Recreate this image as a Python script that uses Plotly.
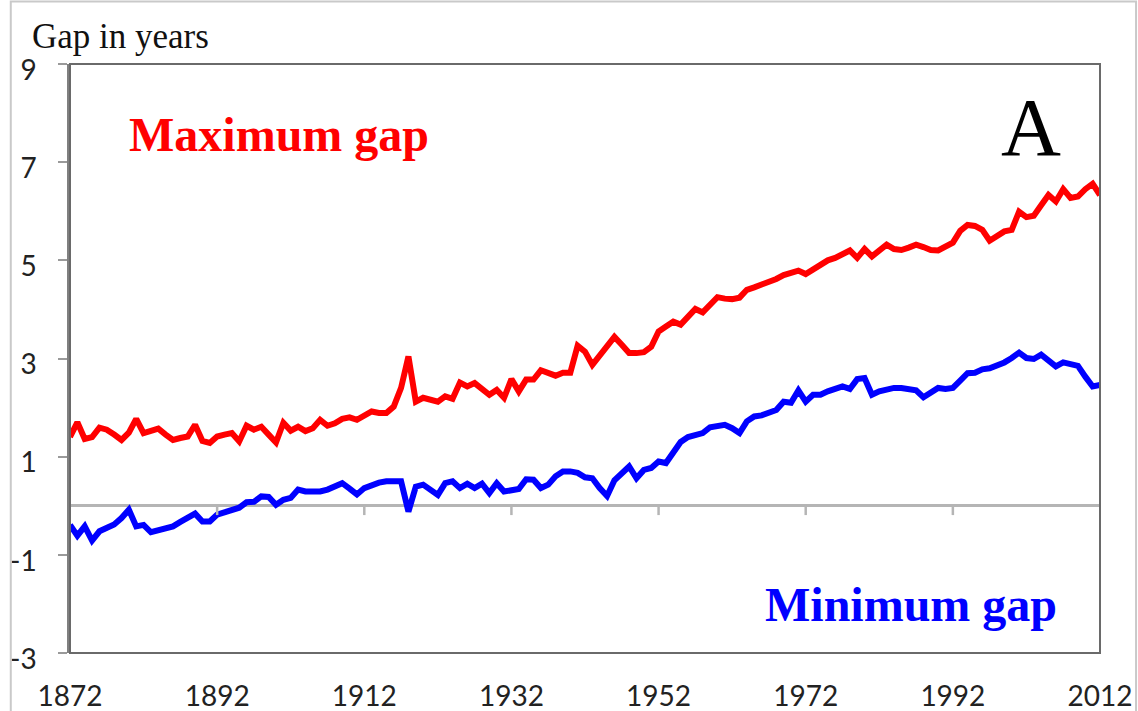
import plotly.graph_objects as go

# years 1872..2012, one value per year
years = list(range(1872, 2013))

max_gap = [
    1.40, 1.70, 1.36, 1.40, 1.59, 1.55, 1.45, 1.34, 1.49, 1.77,  # 1872-1881
    1.48, 1.52, 1.57, 1.45, 1.34, 1.38, 1.41, 1.65, 1.32, 1.28,  # 1882-1891
    1.41, 1.45, 1.48, 1.31, 1.63, 1.55, 1.61, 1.45, 1.29, 1.69,  # 1892-1901
    1.53, 1.61, 1.52, 1.58, 1.75, 1.63, 1.68, 1.77, 1.80, 1.75,  # 1902-1911
    1.83, 1.92, 1.89, 1.89, 2.02, 2.40, 3.04, 2.12, 2.20, 2.17,  # 1912-1921
    2.12, 2.23, 2.18, 2.51, 2.43, 2.50, 2.38, 2.26, 2.36, 2.20,  # 1922-1931
    2.58, 2.33, 2.57, 2.57, 2.76, 2.71, 2.65, 2.71, 2.71, 3.26,  # 1932-1941
    3.14, 2.87, 3.05, 3.25, 3.44, 3.28, 3.11, 3.11, 3.13, 3.24,  # 1942-1951
    3.55, 3.65, 3.75, 3.69, 3.85, 4.01, 3.94, 4.10, 4.25, 4.22,  # 1952-1961
    4.21, 4.24, 4.40, 4.45, 4.50, 4.55, 4.62, 4.70, 4.75, 4.79,  # 1962-1971
    4.72, 4.81, 4.90, 5.00, 5.05, 5.12, 5.20, 5.05, 5.23, 5.08,  # 1972-1981
    5.20, 5.32, 5.23, 5.21, 5.26, 5.32, 5.27, 5.21, 5.20, 5.27,  # 1982-1991
    5.36, 5.60, 5.72, 5.70, 5.62, 5.40, 5.50, 5.59, 5.62, 5.99,  # 1992-2001
    5.88, 5.91, 6.12, 6.33, 6.20, 6.45, 6.27, 6.30, 6.45, 6.56,  # 2002-2011
    6.33,                                                        # 2012
]

min_gap = [
    -0.39, -0.61, -0.42, -0.71, -0.52, -0.45, -0.38, -0.25, -0.08, -0.42,  # 1872-1881
    -0.39, -0.54, -0.50, -0.46, -0.42, -0.33, -0.24, -0.16, -0.32, -0.32,  # 1882-1891
    -0.18, -0.13, -0.10, -0.04, 0.07, 0.08, 0.19, 0.18, 0.02, 0.12,        # 1892-1901
    0.16, 0.33, 0.29, 0.29, 0.29, 0.33, 0.40, 0.46, 0.35, 0.23,            # 1902-1911
    0.36, 0.42, 0.47, 0.50, 0.50, 0.50, -0.12, 0.39, 0.43, 0.33,           # 1912-1921
    0.22, 0.46, 0.50, 0.36, 0.45, 0.36, 0.45, 0.26, 0.46, 0.29,            # 1922-1931
    0.33, 0.34, 0.54, 0.53, 0.36, 0.43, 0.60, 0.70, 0.70, 0.67,            # 1932-1941
    0.58, 0.56, 0.36, 0.20, 0.52, 0.65, 0.80, 0.56, 0.73, 0.77,            # 1942-1951
    0.90, 0.87, 1.11, 1.30, 1.40, 1.45, 1.48, 1.60, 1.62, 1.65,            # 1952-1961
    1.58, 1.48, 1.72, 1.82, 1.84, 1.88, 1.95, 2.12, 2.10, 2.35,            # 1962-1971
    2.12, 2.26, 2.26, 2.33, 2.38, 2.43, 2.38, 2.58, 2.60, 2.26,            # 1972-1981
    2.33, 2.38, 2.40, 2.40, 2.36, 2.35, 2.21, 2.32, 2.40, 2.38,            # 1982-1991
    2.40, 2.55, 2.70, 2.71, 2.78, 2.80, 2.85, 2.92, 3.01, 3.12,            # 1992-2001
    3.01, 2.99, 3.08, 2.94, 2.84, 2.92, 2.87, 2.85, 2.63, 2.43,            # 2002-2011
    2.46,                                                                  # 2012
]

x_ticks = [1872, 1892, 1912, 1932, 1952, 1972, 1992, 2012]
y_ticks = [-3, -1, 1, 3, 5, 7, 9]
y_labels = ["-3", "-1", "1", "3", "5", "7", "9"]  # plain hyphen, as in the original

serif = "Liberation Serif, Times New Roman, serif"
sans = "Lato, Carlito, Calibri, sans-serif"

fig = go.Figure()
fig.add_trace(go.Scatter(x=years, y=max_gap, mode="lines", name="Maximum gap",
                         line=dict(color="#ff0000", width=6)))
fig.add_trace(go.Scatter(x=years, y=min_gap, mode="lines", name="Minimum gap",
                         line=dict(color="#0000ff", width=6)))

# small tick marks hanging under the zero line
for yr in x_ticks[1:-1]:
    fig.add_shape(type="line", xref="x", yref="y", x0=yr, x1=yr, y0=0, y1=-0.19,
                  line=dict(color="#b5b5b5", width=2.5))

# plot frame
fig.add_shape(type="rect", xref="paper", yref="paper", x0=0, x1=1, y0=0, y1=1,
              line=dict(color="#6a6a6a", width=2), layer="above")
# light outer border of the picture
fig.add_shape(type="rect", xref="paper", yref="paper", x0=-0.0575, x1=1.035, y0=-0.2, y1=1.106,
              line=dict(color="#c9c9c9", width=2))

common = dict(xref="paper", yref="paper", showarrow=False, xanchor="center", yanchor="middle")
fig.add_annotation(text="Gap in years", x=0.0495, y=1.046,
                   font=dict(family=serif, size=35, color="#111"), **common)
fig.add_annotation(text="<b>Maximum gap</b>", x=0.203, y=0.881,
                   font=dict(family=serif, size=48, color="#ff0000"), **common)
fig.add_annotation(text="<b>Minimum gap</b>", x=0.8165, y=0.082,
                   font=dict(family=serif, size=48, color="#0000ff"), **common)
fig.add_annotation(text="A", x=0.933, y=0.893,
                   font=dict(family=serif, size=83, color="#000"), **common)

fig.update_layout(
    width=1138, height=711,
    margin=dict(l=70, r=38, t=64, b=58),
    paper_bgcolor="white", plot_bgcolor="white",
    showlegend=False,
    xaxis=dict(range=[1872, 2012], tickvals=x_ticks, ticks="", showgrid=False,
               zeroline=False, showline=False, ticklabelstandoff=24, automargin=False,
               tickfont=dict(family=sans, size=28, color="#222")),
    yaxis=dict(range=[-3, 9], tickvals=y_ticks, ticktext=y_labels, ticks="outside",
               ticklen=9, tickwidth=2, tickcolor="#9a9a9a", showgrid=False,
               showline=True, linecolor="#808080", linewidth=2.5,
               zeroline=True, zerolinecolor="#b5b5b5", zerolinewidth=3,
               ticklabelstandoff=16, ticklabelshift=6, automargin=False,
               tickfont=dict(family=sans, size=28, color="#222")),
)

# drop the default page margin so the figure sits at the window's corner
fig.write_html("out.html", config={"displayModeBar": False},
               post_script="document.body.style.margin='0';")
